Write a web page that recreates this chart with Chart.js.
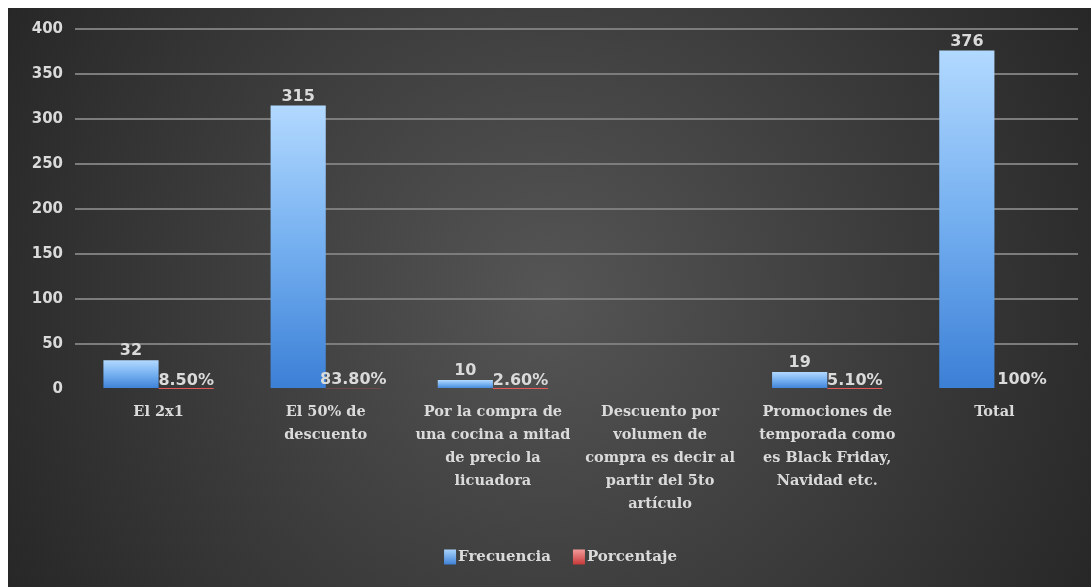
<!DOCTYPE html>
<html>
<head>
<meta charset="utf-8">
<script src="https://cdn.jsdelivr.net/npm/chart.js@4.4.1/dist/chart.umd.min.js"></script>
<style>
  html, body { margin: 0; padding: 0; background: #fff; }
  #wrap { position: absolute; left: 8px; top: 8px; width: 1083px; height: 579px; }
</style>
</head>
<body>
<div id="wrap"><canvas id="chart"></canvas></div>
<script>
// Data
const categories = [
    'El 2x1',
    ['El 50% de', 'descuento'],
    ['Por la compra de', 'una cocina a mitad', 'de precio la', 'licuadora'],
    ['Descuento por', 'volumen de', 'compra es decir al', 'partir del 5to', 'artículo'],
    ['Promociones de', 'temporada como', 'es Black Friday,', 'Navidad etc.'],
    'Total'
];
const frecuencia = [32, 315, 10, null, 19, 376];
const porcentaje = [0.085, 0.838, 0.026, null, 0.051, 1];
const porcentajeLabels = ['8.50%', '83.80%', '2.60%', '', '5.10%', '100%'];

const textColor = '#dadada';

// radial dark background like the Excel chart area
const backgroundPlugin = {
    id: 'bg',
    beforeDraw(chart) {
        const { ctx, width, height } = chart;
        const cx = width / 2, cy = height / 2;
        const g = ctx.createRadialGradient(cx, cy, 0, cx, cy, Math.hypot(cx, cy));
        g.addColorStop(0, '#555555');
        g.addColorStop(1, '#272727');
        ctx.save();
        ctx.fillStyle = g;
        ctx.fillRect(0, 0, width, height);
        ctx.restore();
    }
};

// value labels above each bar
const valueLabels = {
    id: 'valueLabels',
    afterDatasetsDraw(chart) {
        const ctx = chart.ctx;
        ctx.save();
        ctx.font = 'bold 16px "DejaVu Sans"';
        ctx.fillStyle = textColor;
        ctx.textAlign = 'center';
        ctx.textBaseline = 'alphabetic';
        chart.getDatasetMeta(0).data.forEach((el, i) => {
            if (frecuencia[i] == null) return;
            ctx.fillText(String(frecuencia[i]), el.x, el.y - 5);
        });
        chart.getDatasetMeta(1).data.forEach((el, i) => {
            if (!porcentajeLabels[i]) return;
            ctx.fillText(porcentajeLabels[i], el.x, el.y - 4);
        });
        ctx.restore();
    }
};

// legend drawn by hand so the box/text spacing matches Excel
const bottomLegend = {
    id: 'bottomLegend',
    afterDraw(chart) {
        const ctx = chart.ctx;
        const items = chart.data.datasets.map(d => d.label);
        const boxW = 12, boxH = 15, gap = 2, spacing = 22;
        ctx.save();
        ctx.font = 'bold 15px "DejaVu Serif"';
        const widths = items.map(t => ctx.measureText(t).width);
        const total = widths.reduce((a, w) => a + boxW + gap + w, 0) + spacing * (items.length - 1);
        let x = chart.width / 2 + 11 - total / 2;
        const cy = chart.height - 30;
        items.forEach((t, i) => {
            const g = ctx.createLinearGradient(0, cy - boxH / 2, 0, cy + boxH / 2);
            if (i === 0) { g.addColorStop(0, '#a9d3fc'); g.addColorStop(1, '#3f82d8'); }
            else { g.addColorStop(0, '#f49a9a'); g.addColorStop(1, '#c83a3a'); }
            ctx.fillStyle = g;
            ctx.fillRect(x, cy - boxH / 2, boxW, boxH);
            ctx.fillStyle = textColor;
            ctx.textAlign = 'left';
            ctx.textBaseline = 'middle';
            ctx.fillText(t, x + boxW + gap, cy);
            x += boxW + gap + widths[i] + spacing;
        });
        ctx.restore();
    }
};

function blueGradient(context) {
    const chart = context.chart;
    if (!chart.chartArea || context.type !== 'data' || context.raw == null) return '#5b9bd5';
    const y = chart.scales.y;
    const top = y.getPixelForValue(context.raw);
    const bottom = y.getPixelForValue(0);
    const g = chart.ctx.createLinearGradient(0, top, 0, bottom);
    g.addColorStop(0, '#b2d9ff');
    g.addColorStop(0.5, '#74aff0');
    g.addColorStop(1, '#3b7fd6');
    return g;
}

new Chart(document.getElementById('chart'), {
    type: 'bar',
    data: {
        labels: categories,
        datasets: [
            {
                label: 'Frecuencia',
                data: frecuencia,
                backgroundColor: blueGradient,
                categoryPercentage: 0.66,
                barPercentage: 1
            },
            {
                label: 'Porcentaje',
                data: porcentaje,
                backgroundColor: '#e05a5a',
                categoryPercentage: 0.66,
                barPercentage: 1
            }
        ]
    },
    options: {
        responsive: true,
        maintainAspectRatio: false,
        animation: false,
        layout: { padding: { top: 18, right: 13, bottom: 46, left: 0 } },
        scales: {
            x: {
                grid: { display: false, drawTicks: false },
                border: { display: false },
                ticks: {
                    color: textColor,
                    font: { family: '"DejaVu Serif"', size: 14.5, weight: 'bold', lineHeight: 1.58 },
                    padding: 12,
                    maxRotation: 0,
                    autoSkip: false
                },
                afterFit(scale) { scale.height = 152; }
            },
            y: {
                min: 0,
                max: 400,
                grid: {
                    color: (ctx) => ctx.tick && ctx.tick.value === 0 ? 'rgba(0,0,0,0)' : '#7c7c7c',
                    lineWidth: 2,
                    drawTicks: false
                },
                border: { display: false },
                ticks: {
                    stepSize: 50,
                    color: textColor,
                    font: { family: '"DejaVu Sans"', size: 15, weight: 'bold' },
                    padding: 12
                },
                afterFit(scale) { scale.width = 67; }
            }
        },
        plugins: {
            tooltip: { enabled: false },
            legend: { display: false }
        }
    },
    plugins: [backgroundPlugin, valueLabels, bottomLegend]
});
</script>
</body>
</html>
